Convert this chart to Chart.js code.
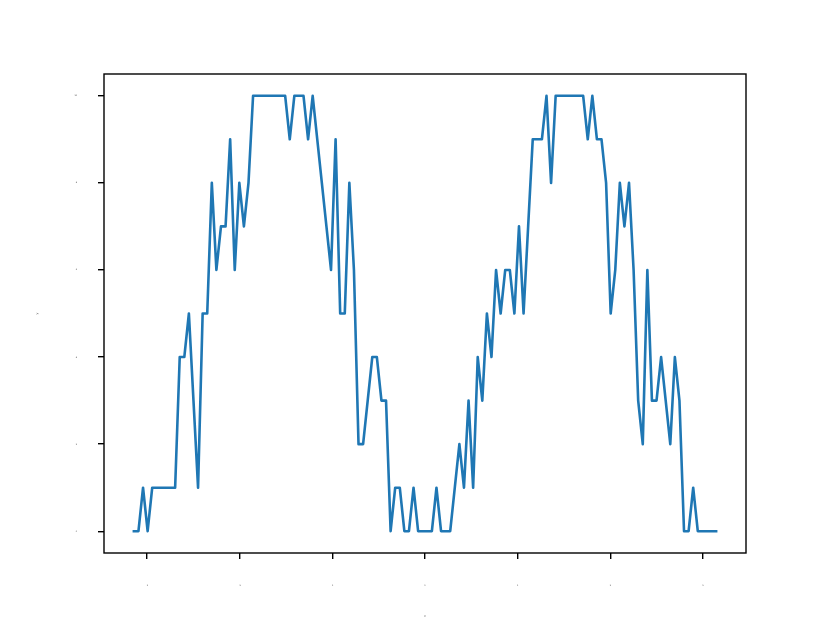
<!DOCTYPE html>
<html>
<head>
<meta charset="utf-8">
<script src="https://cdn.jsdelivr.net/npm/chart.js@4"></script>
<style>
  html, body { margin: 0; padding: 0; background: #fff; }
  canvas { display: block; }
</style>
</head>
<body>
<canvas id="chart" width="830" height="623"></canvas>
<script>
// samples run evenly from -pi to pi
const xFrom = -Math.PI;
const xTo = Math.PI;
const levels = [
  0, 0, 1, 0, 1, 1, 1, 1, 1, 1,
  4, 4, 5, 3, 1, 5, 5, 8, 6, 7,
  7, 9, 6, 8, 7, 8, 10, 10, 10, 10,
  10, 10, 10, 10, 9, 10, 10, 10, 9, 10,
  9, 8, 7, 6, 9, 5, 5, 8, 6, 2,
  2, 3, 4, 4, 3, 3, 0, 1, 1, 0,
  0, 1, 0, 0, 0, 0, 1, 0, 0, 0,
  1, 2, 1, 3, 1, 4, 3, 5, 4, 6,
  5, 6, 6, 5, 7, 5, 7, 9, 9, 9,
  10, 8, 10, 10, 10, 10, 10, 10, 10, 9,
  10, 9, 9, 8, 5, 6, 8, 7, 8, 6,
  3, 2, 6, 3, 3, 4, 3, 2, 4, 3,
  0, 0, 1, 0, 0, 0, 0, 0
];
const xTicks = [-3, -2, -1, 0, 1, 2, 3];
const yTicks = [0, 2, 4, 6, 8, 10];

const step = (xTo - xFrom) / (levels.length - 1);
const points = levels.map((v, i) => ({ x: xFrom + i * step, y: v }));

// matplotlib style box round the plot area
const frame = {
  id: 'frame',
  afterDraw(chart) {
    const { ctx, chartArea: a } = chart;
    ctx.save();
    ctx.strokeStyle = '#000';
    ctx.lineWidth = 1.4;
    ctx.strokeRect(a.left, a.top, a.right - a.left, a.bottom - a.top);
    ctx.restore();
  }
};

const tinyFont = { family: 'DejaVu Sans', size: 2 };

new Chart(document.getElementById('chart').getContext('2d'), {
  type: 'line',
  data: {
    datasets: [{
      data: points,
      borderColor: '#1f77b4',
      borderWidth: 2.6,
      borderCapStyle: 'square',
      borderJoinStyle: 'round',
      pointRadius: 0,
      tension: 0,
      fill: false
    }]
  },
  options: {
    responsive: false,
    animation: false,
    devicePixelRatio: 1,
    layout: { padding: { top: 74, right: 84, bottom: 0, left: 0 } },
    plugins: { legend: { display: false }, tooltip: { enabled: false } },
    scales: {
      x: {
        type: 'linear',
        min: -3.464,
        max: 3.464,
        afterBuildTicks: s => { s.ticks = xTicks.map(v => ({ value: v })); },
        afterFit: s => { s.height = 70; },
        border: { display: false },
        grid: { drawOnChartArea: false, color: '#000', lineWidth: 1.4, tickLength: 6 },
        ticks: { font: tinyFont, color: '#333', padding: 25, maxRotation: 0 },
        title: { display: true, text: 'x', font: { family: 'DejaVu Sans', size: 3 }, color: '#444', padding: { top: 0, bottom: 5 } }
      },
      y: {
        min: -0.5,
        max: 10.5,
        afterBuildTicks: s => { s.ticks = yTicks.map(v => ({ value: v })); },
        afterFit: s => { s.width = 104; },
        border: { display: false },
        grid: { drawOnChartArea: false, color: '#000', lineWidth: 1.4, tickLength: 6 },
        ticks: { font: tinyFont, color: '#333', padding: 21 },
        title: { display: true, text: 'y', font: { family: 'DejaVu Sans', size: 3 }, color: '#444', padding: { top: 35, bottom: 0 } }
      }
    }
  },
  plugins: [frame]
});
</script>
</body>
</html>
